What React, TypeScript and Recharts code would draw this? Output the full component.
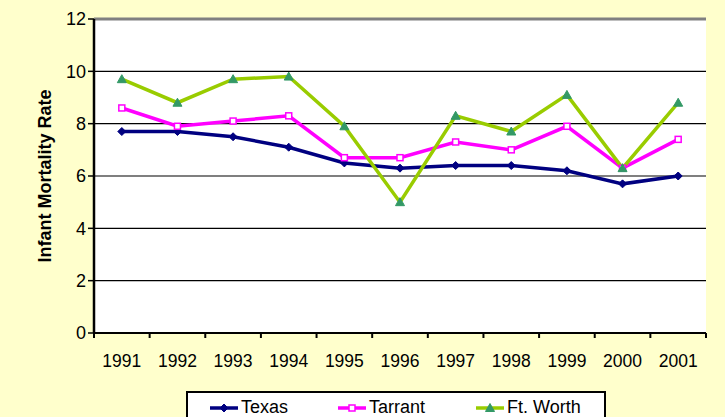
import React from "react";
import {
  LineChart,
  Line,
  XAxis,
  YAxis,
  CartesianGrid,
  ReferenceLine,
} from "recharts";

const years = ["1991", "1992", "1993", "1994", "1995", "1996", "1997", "1998", "1999", "2000", "2001"];
const texas = [7.7, 7.7, 7.5, 7.1, 6.5, 6.3, 6.4, 6.4, 6.2, 5.7, 6.0];
const tarrant = [8.6, 7.9, 8.1, 8.3, 6.7, 6.7, 7.3, 7.0, 7.9, 6.3, 7.4];
const ftWorth = [9.7, 8.8, 9.7, 9.8, 7.9, 5.0, 8.3, 7.7, 9.1, 6.3, 8.8];
const yTicks = [0, 2, 4, 6, 8, 10, 12];

const data = years.map((year, i) => ({
  year,
  texas: texas[i],
  tarrant: tarrant[i],
  ftWorth: ftWorth[i],
}));

const W = 725;
const H = 417;
const margin = { top: 19, right: 19, bottom: 0, left: 0 };
const band = (W - 94 - margin.right) / years.length;

const FONT = "'Liberation Sans', Arial, sans-serif";

const Diamond = (props: any) => {
  const { cx, cy } = props;
  if (cx == null || cy == null) return null;
  return (
    <path
      d={`M${cx},${cy - 4} L${cx + 4},${cy} L${cx},${cy + 4} L${cx - 4},${cy} Z`}
      fill="#000080"
      stroke="#000080"
    />
  );
};

const Square = (props: any) => {
  const { cx, cy } = props;
  if (cx == null || cy == null) return null;
  return (
    <rect x={cx - 3} y={cy - 3} width={6} height={6} fill="#fff" stroke="#FF00FF" strokeWidth={1.5} />
  );
};

const Triangle = (props: any) => {
  const { cx, cy } = props;
  if (cx == null || cy == null) return null;
  return (
    <path
      d={`M${cx},${cy - 4.5} L${cx + 4.5},${cy + 3.5} L${cx - 4.5},${cy + 3.5} Z`}
      fill="#339966"
      stroke="#339966"
    />
  );
};

const XTick = (props: any) => {
  const { x, payload, index } = props;
  const y0 = H - 84;
  return (
    <g>
      <line x1={x - band / 2} y1={y0} x2={x - band / 2} y2={y0 + 5} stroke="#000" strokeWidth={2} />
      {index === years.length - 1 && (
        <line x1={x + band / 2} y1={y0} x2={x + band / 2} y2={y0 + 5} stroke="#000" strokeWidth={2} />
      )}
      <text x={x} y={y0 + 34} textAnchor="middle" fontSize={17.5} fontFamily={FONT} fill="#000">
        {payload.value}
      </text>
    </g>
  );
};

const legendItems = [
  { name: "Texas", color: "#000080", marker: "diamond" },
  { name: "Tarrant", color: "#FF00FF", marker: "square" },
  { name: "Ft. Worth", color: "#99CC00", marker: "triangle" },
];

export default function App() {
  return (
    <div
      style={{
        position: "fixed",
        left: 0,
        top: 0,
        width: W,
        height: H,
        background: "#FFFFCC",
        overflow: "hidden",
        fontFamily: FONT,
      }}
    >
      <LineChart width={W} height={H} data={data} margin={margin}>
        <CartesianGrid vertical={false} stroke="#000" strokeWidth={1.2} fill="#fff" fillOpacity={1} />
        <XAxis
          dataKey="year"
          axisLine={{ stroke: "#000", strokeWidth: 2 }}
          tickLine={false}
          tick={<XTick />}
          interval={0}
          height={84}
          padding={{ left: band / 2, right: band / 2 }}
        />
        <YAxis
          domain={[0, 12]}
          ticks={yTicks}
          width={94}
          axisLine={{ stroke: "#000", strokeWidth: 2.5 }}
          tickLine={{ stroke: "#000", strokeWidth: 1.5 }}
          tickSize={6}
          tick={{ fontSize: 18, fill: "#000", fontFamily: FONT }}
          label={{
            value: "Infant Mortality Rate",
            angle: -90,
            position: "insideLeft",
            offset: 0,
            dx: 45,
            style: { fontSize: 18, fontWeight: "bold", textAnchor: "middle", fill: "#000" },
          }}
        />
        <YAxis
          yAxisId="right"
          orientation="right"
          width={0}
          domain={[0, 12]}
          tick={false}
          tickLine={false}
          axisLine={{ stroke: "#808080", strokeWidth: 3 }}
        />
        <ReferenceLine y={12} stroke="#808080" strokeWidth={3} />
        <Line
          dataKey="texas"
          stroke="#000080"
          strokeWidth={3.5}
          dot={<Diamond />}
          isAnimationActive={false}
        />
        <Line
          dataKey="tarrant"
          stroke="#FF00FF"
          strokeWidth={3.5}
          dot={<Square />}
          isAnimationActive={false}
        />
        <Line
          dataKey="ftWorth"
          stroke="#99CC00"
          strokeWidth={3.5}
          dot={<Triangle />}
          isAnimationActive={false}
        />
      </LineChart>
      <div
        style={{
          position: "absolute",
          left: 186,
          top: 391,
          width: 420,
          height: 40,
          border: "2px solid #000",
          background: "#fff",
          boxSizing: "border-box",
        }}
      >
        {legendItems.map((item, i) => (
          <div
            key={item.name}
            style={{
              position: "absolute",
              left: [22, 150, 288][i],
              top: 4,
              display: "flex",
              alignItems: "center",
              fontSize: 18,
              color: "#000",
              whiteSpace: "nowrap",
            }}
          >
            <svg width={28} height={14} style={{ marginRight: 3 }}>
              <line x1={0} y1={7} x2={28} y2={7} stroke={item.color} strokeWidth={3.5} />
              {item.marker === "diamond" && <Diamond cx={14} cy={7} />}
              {item.marker === "square" && <Square cx={14} cy={7} />}
              {item.marker === "triangle" && <Triangle cx={14} cy={7} />}
            </svg>
            {item.name}
          </div>
        ))}
      </div>
    </div>
  );
}
